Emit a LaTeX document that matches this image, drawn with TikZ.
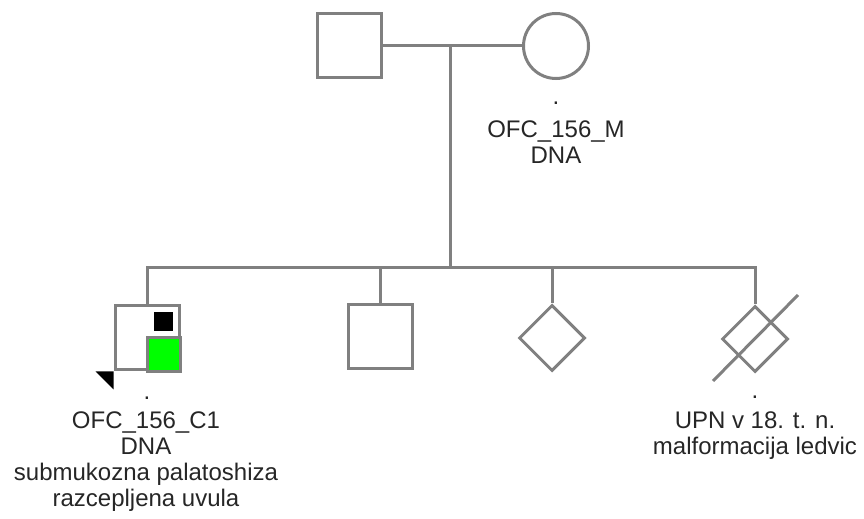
\documentclass[tikz,border=0pt]{standalone}
\usepackage{fontspec}
\setmainfont{Liberation Sans}
\usetikzlibrary{shapes.geometric}
\definecolor{pedgray}{HTML}{808080}
\definecolor{affected}{HTML}{00FF00}
\definecolor{pedink}{HTML}{262626}
\begin{document}
\begin{tikzpicture}[x=0.5pt,y=-0.5pt,
  rel/.style={draw=pedgray,line width=1.5pt},
  male/.style={rectangle,draw=pedgray,line width=1.5pt,fill=white,minimum size=32pt,inner sep=0pt},
  female/.style={circle,draw=pedgray,line width=1.5pt,fill=white,minimum size=32.5pt,inner sep=0pt},
  unknown/.style={diamond,draw=pedgray,line width=1.5pt,fill=white,minimum width=33pt,minimum height=33pt,inner sep=0pt},
  pedtext/.style={font=\fontsize{12}{13}\selectfont,align=center,inner sep=0pt,text=pedink}]
  \useasboundingbox (0,0) rectangle (864,519);

  % Parents
  \node[male] (father) at (349,46) {};
  \node[female] (mother) at (556,46) {};

  % Children
  \node[male] (c1) at (147,338) {};
  \node[male] (c2) at (380,337) {};
  \node[unknown] (c3) at (552,338) {};
  \node[unknown] (c4) at (755,339) {};

  % Union and sibship lines
  \coordinate (union) at (450,46);
  \coordinate (sibship) at (450,268);
  \draw[rel] (father) -- (mother);
  \draw[rel] (union) -- (sibship);
  \draw[rel] (c1.north) -- (c1.north |- sibship) -- (c4.north |- sibship) -- (c4.north);
  \foreach \c in {c2,c3}
    \draw[rel] (\c.north |- sibship) -- (\c.north);

  % Proband markers
  \node[fill=black,minimum size=9.5pt,inner sep=0pt] (c1dna) at (163.5,322) {};
  \draw[rel,fill=affected] (c1.center) rectangle (c1.south east);
  \fill[black] (c1.south west) -- ++(-18,0) -- ++(18,18) -- cycle;

  % Deceased
  \draw[rel] ([shift={(-42,42)}]c4.center) -- ([shift={(43,-44)}]c4.center);

  % Labels
  \node[pedtext,anchor=base] (mdot) at (556,105) {.};
  \node[pedtext,anchor=north] (mlabel) at (556,120) {OFC\_156\_M\\DNA};
  \node[pedtext,anchor=base] (c1dot) at (147,400) {.};
  \node[pedtext,anchor=north] (c1label) at (146,411) {OFC\_156\_C1\\DNA\\submukozna palatoshiza\\razcepljena uvula};
  \node[pedtext,anchor=base] (c4dot) at (755,399) {.};
  \node[pedtext,anchor=north] (c4label) at (755,411) {UPN v 18. t. n.\\malformacija ledvic};
\end{tikzpicture}
\end{document}
